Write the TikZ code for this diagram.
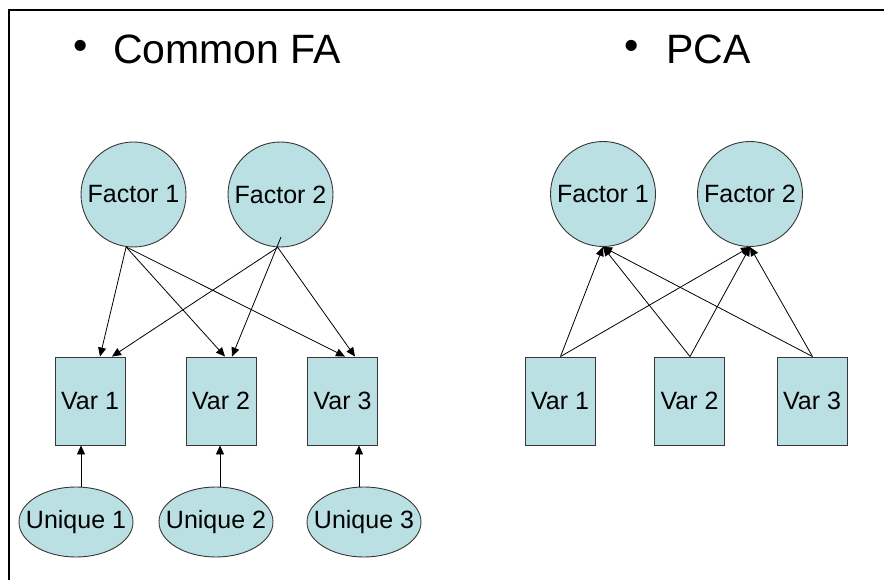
\documentclass[tikz,border=0pt]{standalone}
\usepackage{fontspec}
\setmainfont{Liberation Sans}
\usetikzlibrary{shapes.geometric,arrows.meta,calc}
\definecolor{nodefill}{RGB}{187,224,228}
\definecolor{edgegray}{RGB}{55,55,55}

\begin{document}
\begin{tikzpicture}[x=1pt,y=1pt,
  shapebase/.style={draw=edgegray, line width=0.9pt, fill=nodefill, inner sep=0pt,
                    font=\fontsize{25}{30}\selectfont},
  factor/.style={shapebase, circle, minimum size=105pt},
  var/.style={shapebase, rectangle, minimum width=70pt, minimum height=88pt},
  unique/.style={shapebase, ellipse, minimum width=114pt, minimum height=70pt},
  uniquetext/.style={font=\fontsize{25}{30}\selectfont, inner sep=0pt},
  link/.style={line width=0.8pt, -{Triangle[length=9pt,width=8pt]}},
  title/.style={font=\fontsize{41}{49}\selectfont, inner sep=0pt},
  frame/.style={line width=1.5pt}
]
\useasboundingbox (0,0) rectangle (884,-580);
\fill[white] (0,0) rectangle (884,-580);

% slide frame (top and left edges)
\draw[frame] (9,-580) -- (9,-10) -- (884,-10);

% headings
\node[title] (b1) at (80.5,-50) {•};
\node[title, anchor=base west] (t1) at (113,-64) {Common FA};
\node[title] (b2) at (631.5,-50) {•};
\node[title, anchor=base west] (t2) at (666,-64) {PCA};

% ---- common factor analysis ----
\node[factor] (f1) at (133.5,-194.5) {Factor 1};
\node[factor] (f2) at (280.5,-194.5) {Factor 2};

\node[var] (v1) at (90,-401) {Var 1};
\node[var] (v2) at (221,-401) {Var 2};
\node[var] (v3) at (342.5,-401) {Var 3};

\node[unique, label={[uniquetext]center:Unique 1}] (u1) at (76,-522) {};
\node[unique, label={[uniquetext]center:Unique 2}] (u2) at (216,-522) {};
\node[unique, label={[uniquetext]center:Unique 3}] (u3) at (364,-522) {};

\draw[link] (f1.262) -- ([xshift=10pt]v1.north);
\draw[link] (f1.262) -- ([xshift=4pt]v2.north);
\draw[link] (f1.262) -- ([xshift=2.5pt]v3.north);
\draw[link] (f2.267) -- ([xshift=22pt]v1.north);
\draw[link] ($(f2.center)+(0.5,-42.5)$) -- ([xshift=11pt]v2.north);
\draw[link] (f2.267) -- ([xshift=12.5pt]v3.north);

\draw[link] ([xshift=5pt]u1.north) -- ([xshift=5pt]u1.north |- v1.south);
\draw[link] ([xshift=4pt]u2.north) -- ([xshift=4pt]u2.north |- v2.south);
\draw[link] ([xshift=-5pt]u3.north) -- ([xshift=-5pt]u3.north |- v3.south);

% ---- principal components ----
\node[factor] (pf1) at (603,-194) {Factor 1};
\node[factor] (pf2) at (750,-194) {Factor 2};

\node[var] (pv1) at (560,-401) {Var 1};
\node[var] (pv2) at (689.5,-401) {Var 2};
\node[var] (pv3) at (812,-401) {Var 3};

\foreach \v in {pv1,pv2,pv3}{
  \draw[link] ([xshift=0.5pt]\v.north) -- (pf1.south);
  \draw[link] ([xshift=0.5pt]\v.north) -- (pf2.south);
}
\end{tikzpicture}
\end{document}
